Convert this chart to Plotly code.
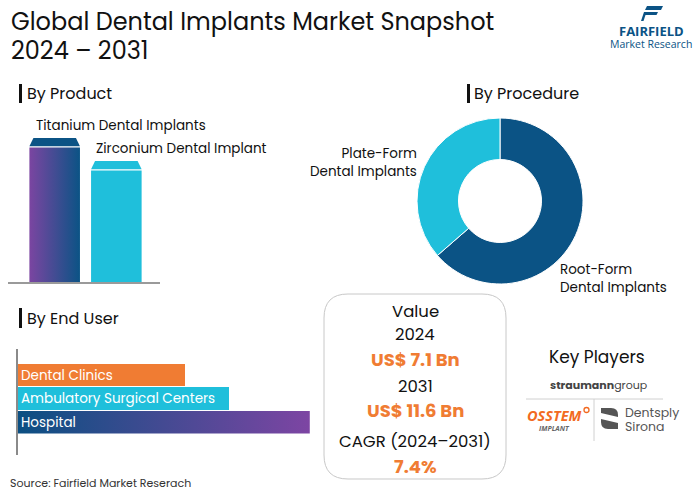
import plotly.graph_objects as go

W, H = 700, 491
def px(x): return x / W
def py(y): return 1 - y / H

FONT = "Poppins, Open Sans, Noto Sans, sans-serif"
DARK = "#0b5385"
CYAN = "#1fbfdb"
PURPLE = "#7b45a1"
ORANGE = "#f07c33"
TXT = "#111111"

# ---------------- data ----------------
products = ["Titanium Dental Implants", "Zirconium Dental Implant"]
product_values = [59.3, 49.8]

procedures = ["Root-Form<br>Dental Implants", "Plate-Form<br>Dental Implants"]
procedure_values = [63.6, 36.4]

end_users = ["Dental Clinics", "Ambulatory Surgical Centers", "Hospital"]
end_user_values = [28.9, 36.5, 50.5]

value_lines = ["Value", "2024", "US$ 7.1 Bn", "2031", "US$ 11.6 Bn", "CAGR (2024\u20132031)", "7.4%"]

fig = go.Figure()

# ---------------- By Product (vertical bars with caps) ----------------
P_Y_RANGE = [0, 70]
P_DOM_BOT, P_DOM_TOP = 282, 112
p_scale = (P_DOM_BOT - P_DOM_TOP) / (P_Y_RANGE[1] - P_Y_RANGE[0])
cap_units = 9.5 / p_scale
gap_units = 1.2 / p_scale
bar_w = 0.82
inset = 0.065
body_fills = [dict(type="horizontal", colorscale=[[0, PURPLE], [1, DARK]]), None]
body_colors = [None, CYAN]
cap_colors = [DARK, CYAN]
for i, (name, v) in enumerate(zip(products, product_values)):
    x0, x1 = i - bar_w / 2, i + bar_w / 2
    top_body = v - cap_units
    kw = dict(x=[x0, x1, x1, x0, x0], y=[0, 0, top_body, top_body, 0], fill="toself",
              mode="lines", line=dict(width=0), xaxis="x", yaxis="y", hoverinfo="skip", showlegend=False)
    if body_fills[i] is not None:
        kw["fillgradient"] = body_fills[i]
    else:
        kw["fillcolor"] = body_colors[i]
    fig.add_trace(go.Scatter(**kw))
    cb = top_body + gap_units
    fig.add_trace(go.Scatter(x=[x0, x1, x1 - inset, x0 + inset, x0], y=[cb, cb, v, v, cb], fill="toself",
                             fillcolor=cap_colors[i], mode="lines", line=dict(width=0),
                             xaxis="x", yaxis="y", hoverinfo="skip", showlegend=False))
    fig.add_annotation(x=i - 0.33 if i == 0 else i - 0.36, y=v, xref="x", yref="y", text=name,
                       xanchor="left", yanchor="bottom", yshift=1, showarrow=False,
                       font=dict(family=FONT, size=13.5, color=TXT))

# ---------------- By End User (horizontal bars) ----------------
E_X_RANGE = [0, 54]
for i, (name, v) in enumerate(zip(end_users, end_user_values)):
    y0, y1 = i - 0.475, i + 0.475
    if i == 2:
        fig.add_trace(go.Scatter(x=[0, v, v, 0, 0], y=[y0, y0, y1, y1, y0], fill="toself",
                                 fillgradient=dict(type="horizontal", colorscale=[[0, "#0b4f82"], [1, "#7d45a3"]]),
                                 mode="lines", line=dict(width=0), xaxis="x3", yaxis="y3",
                                 hoverinfo="skip", showlegend=False))
    else:
        fig.add_trace(go.Bar(x=[v], y=[i], orientation="h", width=0.95,
                             marker=dict(color=[ORANGE, CYAN][i], line=dict(width=0)),
                             xaxis="x3", yaxis="y3", hoverinfo="skip", showlegend=False))
    fig.add_annotation(x=0, y=i, xref="x3", yref="y3", text=name, xanchor="left", xshift=1,
                       showarrow=False, font=dict(family=FONT, size=13.5, color="white"))

# ---------------- By Procedure (donut) ----------------
fig.add_trace(go.Pie(labels=procedures, values=procedure_values, hole=0.5, sort=False,
                     direction="clockwise", rotation=0, textinfo="none", hoverinfo="skip",
                     marker=dict(colors=[DARK, CYAN], line=dict(color="white", width=1)),
                     domain=dict(x=[px(417), px(583)], y=[py(284), py(118)]), showlegend=False))

# ---------------- layout ----------------
fig.update_layout(
    width=W, height=H, margin=dict(l=0, r=0, t=0, b=0),
    paper_bgcolor="white", plot_bgcolor="rgba(0,0,0,0)",
    xaxis=dict(domain=[px(8), px(160)], range=[-0.757, 1.708], showgrid=False, zeroline=False,
               showticklabels=False, ticks="", showline=True, linecolor="#9a9a9a", linewidth=1.5, fixedrange=True),
    yaxis=dict(domain=[py(P_DOM_BOT), py(P_DOM_TOP)], range=P_Y_RANGE, showgrid=False, zeroline=False,
               showticklabels=False, showline=False, fixedrange=True),
    xaxis3=dict(domain=[px(18), px(330)], range=E_X_RANGE, showgrid=False, zeroline=False,
                showticklabels=False, showline=False, fixedrange=True, anchor="y3"),
    yaxis3=dict(domain=[py(455), py(349)], range=[3.38, -1.1], showgrid=False, zeroline=False,
                showticklabels=False, ticks="", showline=True, linecolor="#8a8a8a", linewidth=2,
                fixedrange=True, anchor="x3"),
    bargap=0, showlegend=False,
)

ann = []
def text(x, y, s, size, color=TXT, xanchor="left", bold=False, family=FONT):
    if bold:
        s = "<b>" + s + "</b>"
    ann.append(dict(x=px(x), y=py(y), xref="paper", yref="paper", text=s, showarrow=False,
                    xanchor=xanchor, yanchor="middle", font=dict(family=family, size=size, color=color)))

# title
text(9, 21, "Global Dental Implants Market Snapshot", 24)
text(9, 51, "2024 \u2013 2031", 24)

# section headers
text(25, 93, "By Product", 16)
text(472, 93, "By Procedure", 16)
text(25, 318, "By End User", 16)

# donut labels
ann.append(dict(x=px(419), y=py(162.5), xref="paper", yref="paper", text=procedures[1], align="right",
                showarrow=False, xanchor="right", yanchor="middle", font=dict(family=FONT, size=13.5, color=TXT)))
ann.append(dict(x=px(558), y=py(278), xref="paper", yref="paper", text=procedures[0], align="left",
                showarrow=False, xanchor="left", yanchor="middle", font=dict(family=FONT, size=13.5, color=TXT)))

# value box
vy = [311, 334, 359, 386, 410, 441, 466]
for s, y in zip(value_lines, vy):
    orange = s.startswith("US$") or s.endswith("%")
    text(415, y, s, 18 if orange else 16.5, ORANGE if orange else TXT, xanchor="center", bold=orange)

# key players
text(597, 357, "Key Players", 17, xanchor="center")
text(598, 385, "<b>straumann</b>group", 11, "#444444", xanchor="center")
text(554, 415.5, "<b><i>OSSTEM</i></b>", 14.5, "#f26a21", xanchor="center", family="Open Sans, sans-serif")
text(554, 428.5, "<b><i>IMPLANT</i></b>", 7, "#666666", xanchor="center", family="Open Sans, sans-serif")
text(623, 412, "Dentsply", 12.5, "#555555")
text(623, 426, "Sirona", 12.5, "#555555")

# logo
text(651, 31, "<b>FAIRFIELD</b>", 13, DARK, xanchor="center", family="Open Sans, sans-serif")
text(651, 44, "Market Research", 10.5, DARK, xanchor="center", family="Open Sans, sans-serif")

# source
text(8, 483, "Source: Fairfield Market Reserach", 11, "#333333")

fig.update_layout(annotations=list(fig.layout.annotations) + ann)

def P(pts, close=True):
    s = "M " + " L ".join(f"{px(x):.5f},{py(y):.5f}" for x, y in pts)
    return s + (" Z" if close else "")

shapes = []
# header bars
for x, y0, y1 in [(19, 84, 103), (467, 84, 103), (19, 308, 328)]:
    shapes.append(dict(type="rect", xref="paper", yref="paper", x0=px(x), x1=px(x + 3), y0=py(y1), y1=py(y0),
                       fillcolor="#111111", line=dict(width=0)))

# value box rounded rectangle
bx0, bx1, by0, by1, r = 324, 506, 294, 479, 24
def Q(x, y): return f"{px(x):.5f},{py(y):.5f}"
path = (f"M {Q(bx0 + r, by0)} L {Q(bx1 - r, by0)} Q {Q(bx1, by0)} {Q(bx1, by0 + r)} "
        f"L {Q(bx1, by1 - r)} Q {Q(bx1, by1)} {Q(bx1 - r, by1)} L {Q(bx0 + r, by1)} "
        f"Q {Q(bx0, by1)} {Q(bx0, by1 - r)} L {Q(bx0, by0 + r)} Q {Q(bx0, by0)} {Q(bx0 + r, by0)} Z")
shapes.append(dict(type="path", xref="paper", yref="paper", path=path, line=dict(color="#c8c8c8", width=1)))

# key players separators
shapes.append(dict(type="line", xref="paper", yref="paper", x0=px(526), x1=px(663), y0=py(399), y1=py(399),
                   line=dict(color="#d0d0d0", width=1)))
shapes.append(dict(type="line", xref="paper", yref="paper", x0=px(594), x1=px(594), y0=py(399), y1=py(441),
                   line=dict(color="#d0d0d0", width=1)))
# osstem degree mark
shapes.append(dict(type="circle", xref="paper", yref="paper", x0=px(584), x1=px(589), y0=py(412.5), y1=py(407.5),
                   line=dict(color="#f26a21", width=1.3)))
# dentsply icon
shapes.append(dict(type="path", xref="paper", yref="paper",
                   path=f"M {Q(601,408)} L {Q(611,408)} Q {Q(618,408)} {Q(618,415)} L {Q(618,417)} L {Q(601,413)} Z",
                   fillcolor="#555555", line=dict(width=0)))
shapes.append(dict(type="path", xref="paper", yref="paper",
                   path=f"M {Q(601,419)} L {Q(618,423)} L {Q(618,429)} L {Q(608,429)} Q {Q(601,429)} {Q(601,422)} Z",
                   fillcolor="#555555", line=dict(width=0)))
# fairfield icon
shapes.append(dict(type="path", xref="paper", yref="paper",
                   path=P([(647, 6), (663, 6), (661, 10), (645, 10)]), fillcolor=DARK, line=dict(width=0)))
shapes.append(dict(type="path", xref="paper", yref="paper",
                   path=P([(644, 12), (658, 12), (656.5, 15), (643, 15)]), fillcolor=DARK, line=dict(width=0)))
shapes.append(dict(type="path", xref="paper", yref="paper",
                   path=P([(643, 15), (645.5, 15), (643.5, 21), (641, 21)]), fillcolor=DARK, line=dict(width=0)))

fig.update_layout(shapes=shapes)
fig.write_html("out.html", config={"displayModeBar": False},
               post_script="document.body.style.margin='0';document.body.style.overflow='hidden';")
